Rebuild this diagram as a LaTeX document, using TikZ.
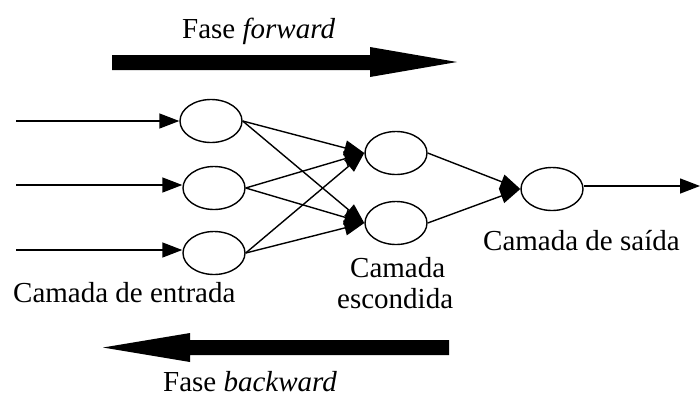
\documentclass[tikz,border=0pt]{standalone}
\usepackage{fontspec}
\setmainfont{Liberation Serif}
\usetikzlibrary{shapes.geometric,arrows.meta}
\begin{document}
\begin{tikzpicture}[x=1pt,y=-1pt,
  neuron/.style={ellipse,draw,line width=1.4pt,minimum width=62pt,minimum height=43pt,inner sep=0pt},
  conn/.style={line width=1.4pt,-{Triangle[length=20pt,width=15pt]}},
  lbl/.style={inner sep=0pt,anchor=base west,font=\fontsize{29}{34}\selectfont},
  bigarrow/.style={fill=black,draw=none}]
\useasboundingbox (0,0) rectangle (700,397);
% phase arrows
\fill[bigarrow] (112,55) -- (370,55) -- (370,47) -- (457,62) -- (370,77) -- (370,70) -- (112,70) -- cycle;
\fill[bigarrow] (449,340) -- (190,340) -- (190,333) -- (103,347.5) -- (190,362) -- (190,355) -- (449,355) -- cycle;
% neurons
\node[neuron] (i1) at (211,121) {};
\node[neuron] (i2) at (214,188) {};
\node[neuron] (i3) at (214,253) {};
\node[neuron] (h1) at (396,153) {};
\node[neuron] (h2) at (396,223) {};
\node[neuron] (o) at (552,189) {};
\coordinate (in1) at (16,121);
\coordinate (in2) at (16,185);
\coordinate (in3) at (16,250);
\coordinate (out) at (700,186);
% connectors
\draw[conn] (in1) -- (i1.west);
\draw[conn] (in2) -- (i2.west |- in2);
\draw[conn] (in3) -- (i3.west |- in3);
\foreach \a in {i1,i2,i3}{
  \draw[conn] (\a.east) -- (h1.west);
  \draw[conn] (\a.east) -- (h2.west);
}
\draw[conn] (h1.east) -- (o.west);
\draw[conn] (h2.east) -- (o.west);
\draw[conn] (o.east |- out) -- (out);
% labels
\node[lbl] (tf) at (182,38) {Fase \textit{forward}};
\node[lbl] (tb) at (163,391) {Fase \textit{backward}};
\node[lbl] (le) at (13,302) {Camada de entrada};
\node[lbl] (ls) at (483,250) {Camada de saída};
\node[lbl] (lh1) at (350,277) {Camada};
\begin{scope}
\clip (300,250) rectangle (480,308);
\node[lbl] (lh2) at (337,308) {escondida};
\end{scope}
\end{tikzpicture}
\end{document}
